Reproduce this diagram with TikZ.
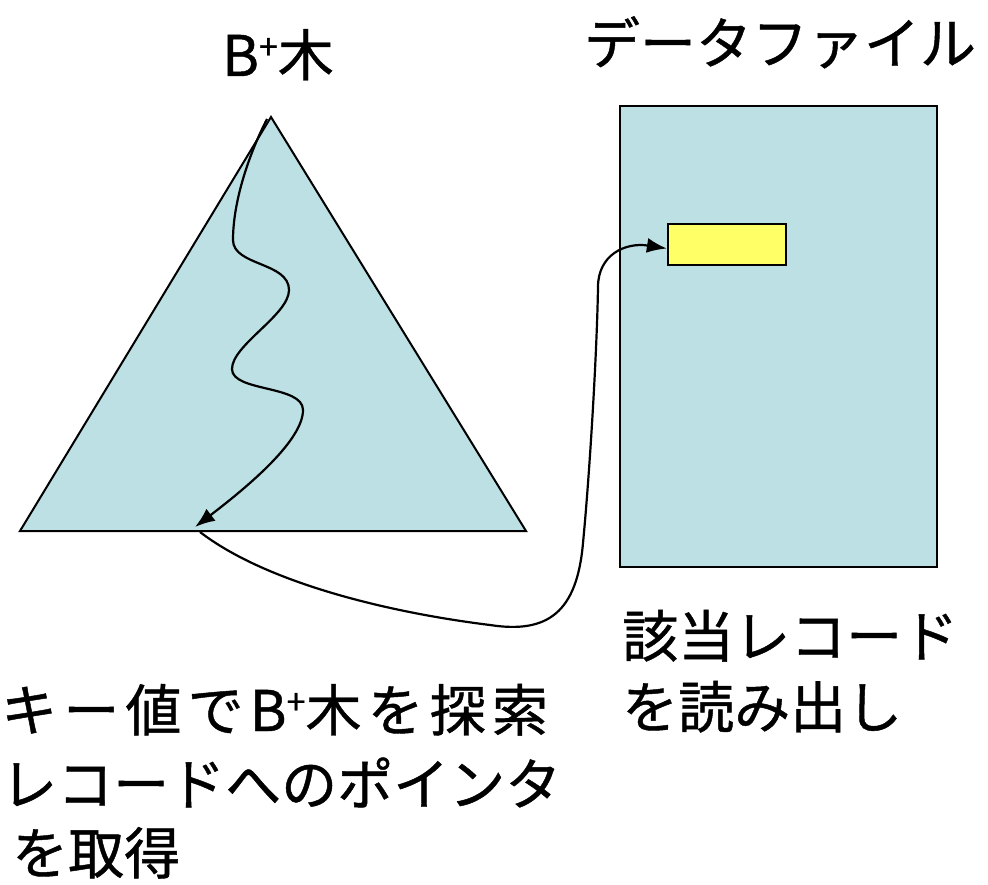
\documentclass[tikz,border=0pt]{standalone}
\usepackage{fontspec}
\setmainfont{Noto Sans CJK JP}[FakeBold=0.8]
\usetikzlibrary{arrows.meta}
\definecolor{triblue}{RGB}{188,224,227}
\definecolor{recyellow}{RGB}{255,255,102}
\tikzset{
  shapefill/.style={fill=triblue, draw=black, line width=2pt},
  recbox/.style={fill=recyellow, draw=black, line width=2.2pt, inner sep=0pt},
  conn/.style={draw=black, line width=2.2pt, -{Latex[length=20pt,width=15pt]}},
  txt/.style={font=\fontsize{56}{72}\selectfont, inner sep=0pt, anchor=base west},
  ttl/.style={font=\fontsize{56}{72}\selectfont, inner sep=0pt, anchor=base},
}
\newcommand{\bplus}{B\raisebox{0.3em}{\fontsize{34}{34}\selectfont +}}
\begin{document}
\begin{tikzpicture}[x=1pt,y=-1pt]
\useasboundingbox (0,0) rectangle (988,885);
% B+ tree triangle
\coordinate (apex) at (271,117);
\coordinate (bl) at (20,531);
\coordinate (br) at (526,531);
\path[shapefill] (apex) -- (br) -- (bl) -- cycle;
% data file
\node[shapefill, line width=2.2pt, minimum width=317pt, minimum height=461pt, inner sep=0pt] (file) at (778.5,336.5) {};
\node[recbox, minimum width=118pt, minimum height=41pt] (rec) at (727,244.5) {};
% titles
\node[ttl] (t1) at (278,76) {\bplus 木};
\node[ttl] (t2) at (780,64) {データファイル};
% search path in the tree
\coordinate (s0) at (267,119);
\coordinate (leaf) at (195,527);
\draw[conn] (s0) .. controls (250,152) and (233,200) .. (233,240)
  .. controls (233,266) and (289,262) .. (289,290)
  .. controls (289,315) and (232,345) .. (232,369)
  .. controls (232,392) and (303,385) .. (303,410)
  .. controls (303,440) and (250,485) .. (leaf);
% pointer to the record
\coordinate (p0) at (200,532);
\draw[conn] (p0) .. controls (265,582) and (385,612) .. (490,625)
  .. controls (548,634) and (577,612) .. (583,543)
  .. controls (590,470) and (597,350) .. (598,287)
  .. controls (598,255) and (625,242) .. ([yshift=-4pt]rec.west);
% captions
\node[txt] (c1) at (1,731) {\addfontfeature{LetterSpace=11}キー値で\bplus 木を探索};
\node[txt] (c2) at (1,805) {レコードへのポインタ};
\node[txt] (c3) at (12,874) {を取得};
\node[txt] (c4) at (622,657) {該当レコード};
\node[txt] (c5) at (622,728) {を読み出し};
\end{tikzpicture}
\end{document}
